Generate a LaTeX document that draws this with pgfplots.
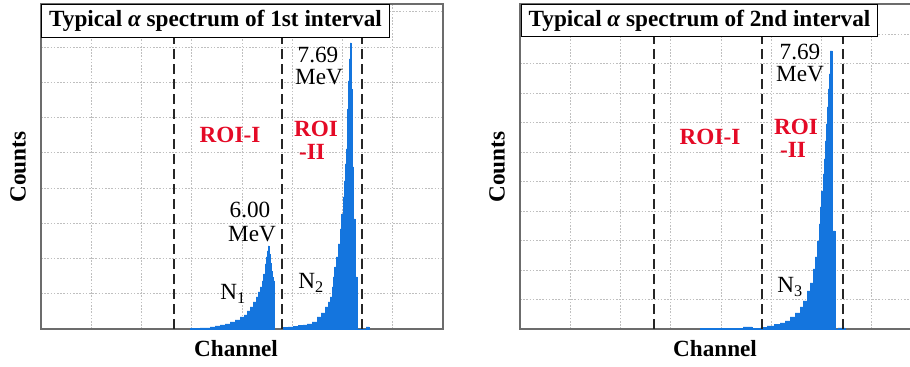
\documentclass[border=0pt]{standalone}
\usepackage{fontspec}
\setmainfont{Liberation Serif}
\usepackage{pgfplots}
\pgfplotsset{compat=1.18}
\definecolor{specblue}{RGB}{20,117,222}
\definecolor{roired}{RGB}{228,10,38}
\newcommand\fs{\fontsize{11.6pt}{11.6pt}\selectfont}
\pgfplotsset{
  panel/.style={
    scale only axis, width=201pt, height=162.5pt,
    xmin=0, xmax=402, ymin=0, ymax=325,
    xtick distance=50.25,
    xticklabels={}, yticklabels={},
    major tick length=0pt,
    grid=major,
    major grid style={gray!50, line width=0.4pt, dash pattern=on 0.8pt off 0.8pt},
    axis line style={gray!85!black, line width=0.6pt},
    clip=false,
  },
  spec/.style={const plot, fill=specblue, draw=specblue, line width=0.2pt},
}
\tikzset{
  roiline/.style={black!85, line width=0.9pt, dash pattern=on 5pt off 2.5pt},
  lab/.style={font=\fs, inner sep=0pt, anchor=base},
  roilab/.style={font=\fs\bfseries, text=roired, inner sep=0pt, anchor=base},
}
\begin{document}
\begin{tikzpicture}
\useasboundingbox (0,0) rectangle (455pt,183.5pt);
\clip (0,0) rectangle (455pt,183.5pt);
% ---------------- left panel ----------------
\begin{axis}[panel, at={(20.5pt,19pt)}, anchor=south west, ytick distance=35.25]
\addplot[spec] coordinates {
(149,0.8) (159,1.2) (169,2) (174,3) (179,4) (184,5) (189,7) (194,9) (199,12)
(203,14) (206,18) (209,22) (212,27) (215,32) (217,37) (219,42) (221,48)
(222.5,55) (224,65) (225,72) (226,78) (227,83) (228,75) (229,66) (230,58)
(231,52) (232,48) (233.5,0)} \closedcycle;
\addplot[spec] coordinates {
(242,1.5) (247,2) (252,2.5) (257,3.5) (262,4) (266,5) (271,7) (276,12) (280,16)
(284,22) (287,27) (289,32) (291,42) (292,52) (293.5,62) (295,72) (297,85)
(299,100) (300.5,115) (302,132) (303,148) (304,165) (305,180) (306,198)
(306.5,220) (307,248) (308,270) (309,286) (310,240) (311,162) (312.5,110)
(314,52) (316,0) (325,2) (328,0)} \closedcycle;
\draw[roiline] (axis cs:133,0) -- (axis cs:133,325);
\draw[roiline] (axis cs:241,0) -- (axis cs:241,325);
\draw[roiline] (axis cs:321,0) -- (axis cs:321,325);
\node[roilab] at (axis cs:189,186) {ROI-I};
\node[roilab] at (axis cs:275,192) {ROI};
\node[roilab] at (axis cs:271,169) {-II};
\node[lab] at (axis cs:277,266) {7.69};
\node[lab] at (axis cs:278,244) {MeV};
\node[lab] at (axis cs:209,111) {6.00};
\node[lab] at (axis cs:211,87) {MeV};
\node[font=\fs, inner sep=0pt, anchor=base west] at (axis cs:179,29) {N\textsubscript{1}};
\node[font=\fs, inner sep=0pt, anchor=base west] at (axis cs:257,40) {N\textsubscript{2}};
\node[draw=black, fill=white, line width=0.5pt, anchor=north west, minimum width=174pt,
      minimum height=16.5pt, inner sep=0pt, font=\fs\bfseries]
  at (axis cs:0,325) {Typical {\itshape α} spectrum of 1st interval};
\node[font=\fs\bfseries, inner sep=0pt] at (axis cs:195,-20) {Channel};
\node[font=\fs\bfseries, inner sep=0pt, rotate=90] at (axis cs:-23,162) {Counts};
\end{axis}
% ---------------- right panel ----------------
\begin{axis}[panel, at={(260pt,19pt)}, anchor=south west, ytick distance=29.5]
\addplot[spec] coordinates {
(180,0.5) (200,0.8) (223,2) (232,0.8) (240,1) (242,1.5) (247,3) (254,4.5)
(260,6) (265,8) (270,12) (275,16) (280,22) (283,28) (287,38) (290,46) (293,60)
(295,72) (297,88) (299,105) (300,122) (301.5,138) (303,155) (304,170) (305,188)
(306,205) (307,222) (308,240) (309,255) (310,278) (312.3,98) (315,0) (318,1)
(325,0)} \closedcycle;
\draw[roiline] (axis cs:134,0) -- (axis cs:134,325);
\draw[roiline] (axis cs:242,0) -- (axis cs:242,325);
\draw[roiline] (axis cs:323,0) -- (axis cs:323,325);
\node[roilab] at (axis cs:190,184) {ROI-I};
\node[roilab] at (axis cs:276,194) {ROI};
\node[roilab] at (axis cs:273,171) {-II};
\node[lab] at (axis cs:280,269) {7.69};
\node[lab] at (axis cs:280,247) {MeV};
\node[font=\fs, inner sep=0pt, anchor=base west] at (axis cs:257,36) {N\textsubscript{3}};
\node[draw=black, fill=white, line width=0.5pt, anchor=north west, minimum width=178pt,
      minimum height=16pt, inner sep=0pt, font=\fs\bfseries]
  at (axis cs:1,325) {Typical {\itshape α} spectrum of 2nd interval};
\node[font=\fs\bfseries, inner sep=0pt] at (axis cs:195,-20) {Channel};
\node[font=\fs\bfseries, inner sep=0pt, rotate=90] at (axis cs:-23,162) {Counts};
\end{axis}
\end{tikzpicture}
\end{document}
